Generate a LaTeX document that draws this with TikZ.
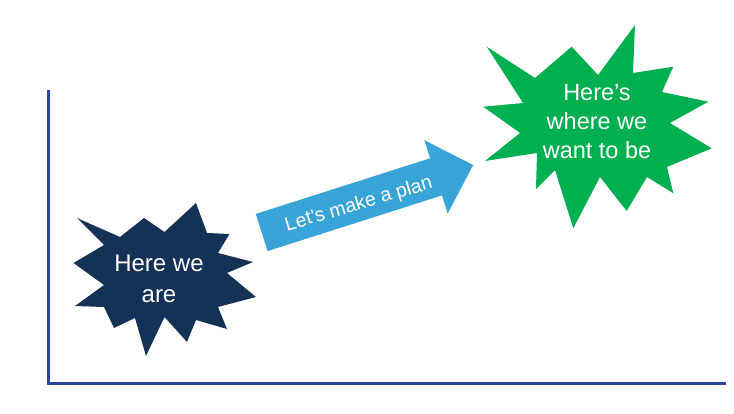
\documentclass[tikz,border=0pt]{standalone}
\usepackage{fontspec}
\setmainfont{Liberation Sans}
\definecolor{axisblue}{RGB}{40,70,160}
\definecolor{navy}{RGB}{20,50,86}
\definecolor{pgreen}{RGB}{0,176,80}
\definecolor{arrowblue}{RGB}{56,164,216}
\tikzset{
  axisline/.style={draw=axisblue, line width=3pt},
  startext/.style={text=white, align=center, font=\fontsize{24}{31}\selectfont, inner sep=0pt},
  arrowtext/.style={text=white, font=\fontsize{19.5}{22}\selectfont, inner sep=0pt},
}
\begin{document}
\begin{tikzpicture}[x=1pt,y=1pt]
\useasboundingbox (0,0) rectangle (734,413);
% axes
\coordinate (top) at (48,413-90);
\coordinate (origin) at (48,413-383.5);
\coordinate (right) at (726,413-383.5);
\draw[axisline] (top) -- (origin);
\draw[axisline] (46.5,413-383.5) -- (right);
% dark star
\fill[navy] (77,413-218) -- (120,413-237) -- (144,413-218) -- (164.5,413-232) -- (196,413-203)
 -- (207,413-233) -- (229.5,413-234) -- (218,413-253) -- (253,413-262) -- (227,413-273)
 -- (256,413-297) -- (218,413-307) -- (227,413-329) -- (196,413-320) -- (187,413-342)
 -- (164.5,413-317) -- (146,413-356) -- (135,413-318) -- (114,413-328) -- (104,413-307)
 -- (75,413-306) -- (104,413-285) -- (73.5,413-263) -- (104,413-245) -- cycle;
\node[startext] (here) at (159,413-279) {Here we\\are};
% green star
\fill[pgreen] (486.7,413-46.7) -- (535,413-78) -- (571.7,413-46.7) -- (598,413-75) -- (635,413-25)
 -- (633,413-73) -- (673.3,413-66.7) -- (662,413-92) -- (708.3,413-101.7) -- (670,413-123)
 -- (711.7,413-148.3) -- (667,413-167) -- (673.3,413-193.3) -- (647,413-177) -- (626.7,413-211)
 -- (600,413-177) -- (573.3,413-228.3) -- (555,413-170) -- (536,413-189) -- (537,413-153)
 -- (485,413-161) -- (520,413-133) -- (483.3,413-106.7) -- (523,413-103) -- cycle;
\node[startext, font=\fontsize{23.5}{29}\selectfont] (there) at (597,413-122) {Here’s\\where we\\want to be};
% arrow
\begin{scope}[shift={(261.7,413-232.5)}, rotate=17.7]
\fill[arrowblue] (0,-19.5) -- (183,-19.5) -- (183,-38.5) -- (222,0) -- (183,38.5) -- (183,19.5) -- (0,19.5) -- cycle;
\node[arrowtext, rotate=16.5] (plan) at (101,-3) {Let’s make a plan};
\end{scope}
\end{tikzpicture}
\end{document}
